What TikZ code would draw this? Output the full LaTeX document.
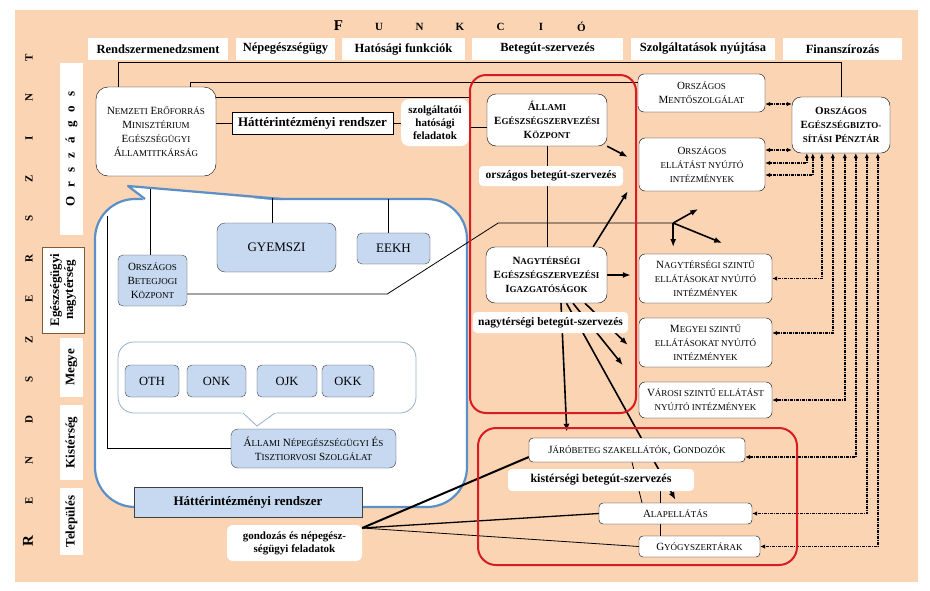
\documentclass[tikz,border=0pt]{standalone}
\usepackage{fontspec}
\setmainfont{Liberation Serif}
\usetikzlibrary{arrows.meta,backgrounds}

\definecolor{peach}{RGB}{251,212,180}
\definecolor{boxblue}{RGB}{198,217,240}
\definecolor{bubblue}{RGB}{91,143,199}
\definecolor{ibubblue}{RGB}{150,176,206}
\definecolor{redline}{RGB}{218,28,34}
\definecolor{lvlbrown}{RGB}{130,90,60}

% small caps by hand: capital first letter, rest smaller
\newcommand{\ksc}[1]{{\fontsize{9}{10}\selectfont\MakeUppercase{#1}}}
\newcommand{\lgap}{\hspace{9pt}}

\begin{document}
\begin{tikzpicture}[x=1pt,y=-1pt,
    hdr/.style={fill=white, minimum height=22pt, inner sep=1pt, font=\bfseries\fontsize{12.5}{14}\selectfont},
    lvl/.style={fill=white, rotate=90, minimum height=23pt, inner sep=1pt, align=center, font=\bfseries\fontsize{13}{14}\selectfont},
    let/.style={font=\bfseries\fontsize{11}{13}\selectfont, inner sep=0pt},
    biglet/.style={let, font=\bfseries\fontsize{15}{16}\selectfont},
    scbox/.style={draw, fill=white, rounded corners=6pt, align=center, inner sep=1pt, font=\fontsize{11}{14}\selectfont},
    bscbox/.style={scbox, font=\bfseries\fontsize{11}{14}\selectfont},
    bluebox/.style={draw=black!75, fill=boxblue, rounded corners=5pt, align=center, inner sep=1pt, font=\fontsize{11}{14}\selectfont},
    lbl/.style={fill=white, rounded corners=4pt, align=center, inner sep=1pt, font=\bfseries\fontsize{11.5}{13}\selectfont},
    redbox/.style={draw=redline, line width=2pt, rounded corners=16pt},
    bubble/.style={draw=bubblue, line width=2.2pt, fill=white, rounded corners=40pt},
    ibubble/.style={draw=ibubblue, line width=0.8pt, fill=white, rounded corners=16pt},
    conn/.style={line width=0.8pt},
    arr/.style={line width=1.6pt, -{Latex[length=8pt,width=6pt]}},
    fin/.style={line width=1.5pt, dash pattern=on 3pt off 1pt on 1pt off 1pt,
      {Latex[length=5pt,width=4.5pt]}-{Latex[length=5pt,width=4.5pt]}}]

  \useasboundingbox (0,0) rectangle (930,590);

  % fejlec: FUNKCIO es RENDSZERSZINT
  \node[biglet] (fk1) at (338.5,26) {F};
  \foreach \l [count=\i from 2] in {U,N,K,C,I,Ó}
    \node[let] (fk\i) at ({298+40.5*\i},27) {\l};
  \node[biglet, rotate=90] (rsz1) at (28,540.75) {R};
  \foreach \l [count=\i from 2] in {E,N,D,S,Z,E,R,S,Z,I,N,T}
    \node[let, rotate=90] (rsz\i) at (29,{581-40.25*\i}) {\l};

  % funkciok
  \node[hdr, minimum width=140pt] (f1) at (158,49) {Rendszermenedzsment};
  \node[hdr, minimum width=99pt] (f2) at (285.5,49) {Népegészségügy};
  \node[hdr, minimum width=123pt] (f3) at (403.5,49) {Hatósági funkciók};
  \node[hdr, minimum width=151pt] (f4) at (547.5,49) {Betegút-szervezés};
  \node[hdr, minimum width=144pt] (f5) at (703,49) {Szolgáltatások nyújtása};
  \node[hdr, minimum width=119pt] (f6) at (842.5,49) {Finanszírozás};

  % szintek
  \node[lvl, minimum width=172pt] (orsz) at (71.5,149) {O\lgap r\lgap s\lgap z\lgap á\lgap g\lgap o\lgap s};
  \node[lvl, draw=lvlbrown, minimum width=86pt, minimum height=42pt] (egnagy) at (63,290) {Egészségügyi\\nagytérség};
  \node[lvl, minimum width=59pt] (megye) at (71.5,367.5) {Megye};
  \node[lvl, minimum width=75pt] (kist) at (71.5,442.5) {Kistérség};
  \node[lvl, minimum width=67pt] (telep) at (71.5,521.5) {Település};

  % orszagos szint
  \node[scbox, rounded corners=12pt, minimum width=120pt, minimum height=89pt] (nem) at (156,131.5)
    {N\ksc{emzeti} E\ksc{rőforrás}\\M\ksc{inisztérium}\\E\ksc{gészségügyi}\\Á\ksc{llamtitkárság}};
  \node[draw, fill=white, inner sep=1pt, minimum width=161pt, minimum height=22pt,
    font=\bfseries\fontsize{13}{15}\selectfont] (hatt1) at (312.5,123) {Háttérintézményi rendszer};
  \node[lbl, rounded corners=8pt, minimum width=68pt, minimum height=47pt, font=\bfseries\fontsize{11}{13}\selectfont]
    (szolg) at (435,122.5) {szolgáltatói\\hatósági\\feladatok};
  \node[bscbox, rounded corners=9pt, minimum width=120pt, minimum height=52pt] (aeszk) at (547,120)
    {Á\ksc{llami}\\E\ksc{gészségszervezési}\\K\ksc{özpont}};
  \node[lbl, minimum width=144pt, minimum height=20pt] (orszbsz) at (551,176) {országos betegút-szervezés};
  \node[bscbox, rounded corners=9pt, minimum width=121pt, minimum height=56pt] (nagy) at (546.5,275)
    {N\ksc{agytérségi}\\E\ksc{gészségszervezési}\\I\ksc{gazgatóságok}};
  \node[lbl, minimum width=155pt, minimum height=21pt] (nagybsz) at (550.5,322.5) {nagytérségi betegút-szervezés};

  % szolgaltatok
  \node[scbox, minimum width=127pt, minimum height=38pt] (mento) at (701.5,93)
    {O\ksc{rszágos}\\M\ksc{entőszolgálat}};
  \node[scbox, minimum width=126pt, minimum height=53pt] (orszint) at (702,164.5)
    {O\ksc{rszágos}\\\ksc{ellátást nyújtó}\\\ksc{intézmények}};
  \node[scbox, minimum width=133pt, minimum height=49pt] (nagyint) at (705.5,278.5)
    {N\ksc{agytérségi szintű}\\\ksc{ellátásokat nyújtó}\\\ksc{intézmények}};
  \node[scbox, minimum width=133pt, minimum height=49pt] (megyeint) at (705.5,342.5)
    {M\ksc{egyei szintű}\\\ksc{ellátásokat nyújtó}\\\ksc{intézmények}};
  \node[scbox, minimum width=133pt, minimum height=36pt] (varosint) at (705.5,400)
    {V\ksc{árosi szintű ellátást}\\\ksc{nyújtó intézmények}};
  \node[bscbox, rounded corners=9pt, minimum width=98pt, minimum height=56pt] (oep) at (841,125)
    {O\ksc{rszágos}\\E\ksc{gészségbizto-}\\\ksc{sítási} P\ksc{énztár}};

  % kisterseg, telepules
  \node[scbox, rounded corners=4pt, minimum width=216pt, minimum height=24pt] (jaro) at (637,450)
    {J\ksc{áróbeteg szakellátók}, G\ksc{ondozók}};
  \node[lbl, minimum width=186pt, minimum height=22pt, font=\bfseries\fontsize{12}{13}\selectfont]
    (kistbsz) at (601,480) {kistérségi betegút-szervezés};
  \node[scbox, rounded corners=4pt, minimum width=153pt, minimum height=21pt] (alap) at (675.5,513.5) {A\ksc{lapellátás}};
  \node[scbox, rounded corners=4pt, minimum width=121pt, minimum height=21pt] (gyogy) at (699.5,546.5) {G\ksc{yógyszertárak}};
  \node[lbl, rounded corners=6pt, minimum width=135pt, minimum height=36pt, font=\bfseries\fontsize{11}{13}\selectfont]
    (gondoz) at (294.5,543) {gondozás és népegész-\\ségügyi feladatok};

  % hatterintezmenyek
  \node[bluebox, minimum width=69pt, minimum height=51pt] (obk) at (152.5,280.5)
    {O\ksc{rszágos}\\B\ksc{etegjogi}\\K\ksc{özpont}};
  \node[bluebox, rounded corners=8pt, minimum width=119pt, minimum height=49pt, font=\fontsize{13}{15}\selectfont]
    (gyemszi) at (276.5,247.5) {GYEMSZI};
  \node[bluebox, minimum width=73pt, minimum height=31pt, font=\fontsize{13}{15}\selectfont] (eekh) at (393.5,248.5) {EEKH};
  \node[bluebox, minimum width=54pt, minimum height=32pt, font=\fontsize{12.5}{15}\selectfont] (oth) at (152,381) {OTH};
  \node[bluebox, minimum width=59pt, minimum height=32pt, font=\fontsize{12.5}{15}\selectfont] (onk) at (216.5,381) {ONK};
  \node[bluebox, minimum width=60pt, minimum height=32pt, font=\fontsize{12.5}{15}\selectfont] (ojk) at (287,381) {OJK};
  \node[bluebox, minimum width=52pt, minimum height=32pt, font=\fontsize{12.5}{15}\selectfont] (okk) at (348,381) {OKK};
  \node[bluebox, rounded corners=7pt, minimum width=165pt, minimum height=39pt] (antsz) at (313.5,448.5)
    {Á\ksc{llami} N\ksc{épegészségügyi} É\ksc{s}\\T\ksc{isztiorvosi} S\ksc{zolgálat}};
  \node[draw=black!75, fill=boxblue, inner sep=1pt, minimum width=228pt, minimum height=30pt,
    font=\bfseries\fontsize{13}{15}\selectfont] (hatt2) at (248,502) {Háttérintézményi rendszer};

  % betegut-szervezes keretei
  \node[redbox, minimum width=166pt, minimum height=338pt] (rk1) at (553,244) {};
  \node[redbox, rounded corners=18pt, minimum width=319pt, minimum height=137pt] (rk2) at (637.5,496.5) {};

  \begin{scope}[on background layer]
    \fill[peach] (15,10) rectangle (918,582);

    % buborek
    \draw[bubble] (95,199) rectangle (467,507);
    \fill[white] (145,201) -- (128,186) -- (282,201) -- cycle;
    \draw[bubblue, line width=2.2pt, line join=round] (145,199) -- (128,186) -- (282,199);
    \draw[ibubble] (118,342) rectangle (416,413);
    \fill[white] (241,412) -- (257,426) -- (277,412) -- cycle;
    \draw[ibubblue, line width=0.8pt] (243,413) -- (257,426) -- (275,413);

    % iranyitas
    \draw[conn] ([xshift=-38pt]nem.north) -- ++(0,-24) -| (oep.north);
    \draw[conn] ([xshift=34pt]nem.north) |- ([yshift=11pt]mento.west);
    \draw[conn] ([yshift=34pt]nem.east) -- ([yshift=34pt]nem.east -| rk1.west);
    \draw[conn] (nem.east |- hatt1.west) -- (hatt1.west);
    \draw[conn] (hatt1.east) -- (hatt1.east -| szolg.west);
    \draw[conn] ([yshift=-4.5pt]szolg.east) -- ([yshift=-4.5pt]szolg.east -| aeszk.west);
    \draw[conn] (aeszk.south) -- (aeszk.south |- nagy.north);

    \draw[conn] (antsz.west) -| ++(-123,-233);
    \draw[conn] ([xshift=-2.5pt]obk.north) -- ++(0,-66);
    \draw[conn] ([xshift=-4.5pt]gyemszi.north) -- ++(0,-25);
    \draw[conn] ([xshift=-5.5pt]eekh.north) -- ++(0,-34);
    \draw[conn] ([yshift=-13.5pt]obk.east) -- ++(200,0) -- ++(111,-71) -- ++(175,0) coordinate (split);
    \draw[arr] (split) -- ++(25,-14);
    \draw[arr] (split) -- ++(0,24);
    \draw[arr] (split) -- ++(49,20);

    % betegut
    \draw[arr] (aeszk.south east) -- ([xshift=-11pt,yshift=7.5pt]orszint.west);
    \draw[arr] ([xshift=-14pt]nagy.north east) -- ([xshift=-11pt]orszint.south west);
    \draw[arr] (nagy.east) -- ([xshift=-8pt]nagy.east -| nagyint.west);
    \draw[arr] ([xshift=14.5pt]nagy.south) -- ([xshift=38pt,yshift=6pt]jaro.north west);
    \draw[arr] ([xshift=20pt]nagy.south) -- ([yshift=3pt]alap.north);
    \draw[arr] ([xshift=26.5pt]nagy.south) -- ([xshift=-16pt,yshift=2pt]megyeint.south west);
    \draw[arr] ([xshift=38.5pt]nagy.south) -- ([xshift=-11pt,yshift=-2.5pt]megyeint.west);

    \draw[conn] ([xshift=-5pt]jaro.south) -- ([xshift=-33.5pt]alap.north);
    \draw[conn] ([xshift=59pt]kistbsz.south) -- ([xshift=-39.5pt]gyogy.north);
    \draw[line width=2pt] ([yshift=15pt]gondoz.east) -- ([yshift=-7pt]jaro.west);
    \draw[line width=1.3pt] ([yshift=15pt]gondoz.east) -- (alap.west);
    \draw[conn] ([yshift=15pt]gondoz.east) -- (gyogy.west);

    % finanszirozas
    \draw[fin] ([yshift=-11pt]mento.east) -- ([yshift=-11pt]mento.east -| oep.west);
    \draw[fin] ([yshift=14.5pt]orszint.east) -- ([yshift=14.5pt]orszint.east -| oep.west);
    \draw[fin] ([xshift=15pt]oep.south west) |- ([yshift=1.5pt]orszint.east);
    \draw[fin] ([xshift=21pt]oep.south west) |- ([yshift=-10.5pt]orszint.east);
    \draw[fin] ([xshift=41pt]oep.south west) |- ([yshift=9.5pt]megyeint.east);
    \draw[fin] ([xshift=64pt]oep.south west) |- ([yshift=-7pt]jaro.east);
    \foreach \dx/\tgt in {30/nagyint,53/varosint,75/alap,86/gyogy}
      \draw[fin] ([xshift=\dx pt]oep.south west) |- (\tgt.east);
  \end{scope}

\end{tikzpicture}
\end{document}
